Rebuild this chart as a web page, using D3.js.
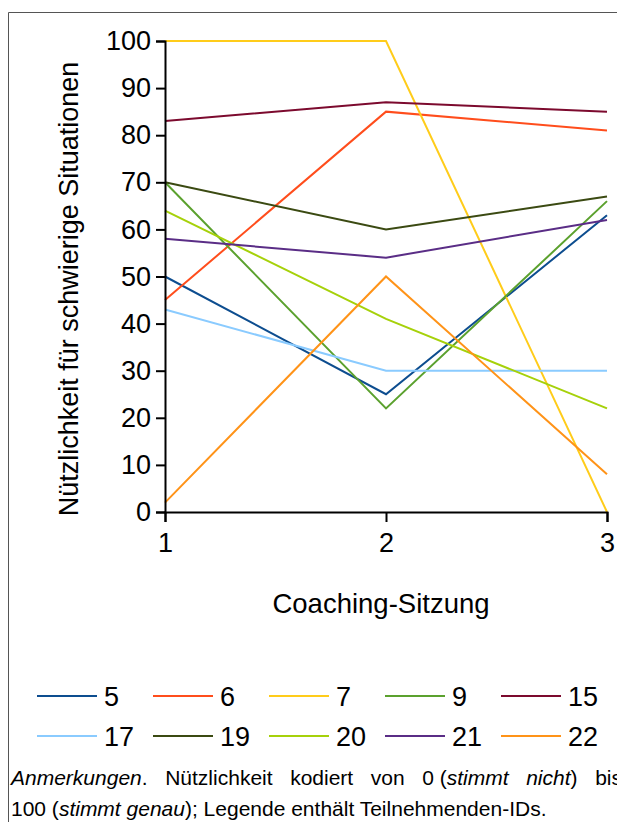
<!DOCTYPE html>
<html><head><meta charset="utf-8">
<script src="https://cdn.jsdelivr.net/npm/d3@7"></script>
<style>body{margin:0;background:#fff}svg{display:block}text{font-family:"Liberation Sans",Arial,sans-serif}</style>
</head><body><svg id="c" width="617" height="822"></svg>
<script>
const sessions = [1, 2, 3];
const ids = ["5", "6", "7", "9", "15", "17", "19", "20", "21", "22"];
const s5 = [50, 25, 63];
const s6 = [45, 85, 81];
const s7 = [100, 100, 0];
const s9 = [70, 22, 66];
const s15 = [83, 87, 85];
const s17 = [43, 30, 30];
const s19 = [70, 60, 67];
const s20 = [64, 41, 22];
const s21 = [58, 54, 62];
const s22 = [2, 50, 8];
const yTicks = [0, 10, 20, 30, 40, 50, 60, 70, 80, 90, 100];
const colors = ["#0d4d8f", "#ff4d1c", "#ffcc1a", "#5ba12e", "#7c0a2e", "#8acbff", "#3b4a12", "#a6d10a", "#5a2d86", "#ff9318"];
const series = [s5, s6, s7, s9, s15, s17, s19, s20, s21, s22];

const svg = d3.select("#c");
svg.append("path").attr("d", "M8.5,822 V12.5 H640").attr("fill", "none").attr("stroke", "#555").attr("stroke-width", 1);

const x = d3.scaleLinear().domain([1, 3]).range([165, 607]);
const y = d3.scaleLinear().domain([0, 100]).range([512, 41]);

const line = d3.line().x((d, i) => x(sessions[i])).y(d => y(d));
const g = svg.append("g");
series.forEach((s, k) => {
  g.append("path").datum(s).attr("d", line).attr("fill", "none")
    .attr("stroke", colors[k]).attr("stroke-width", 2);
});

const ya = svg.append("g").attr("transform", "translate(165,0)")
  .call(d3.axisLeft(y).tickValues(yTicks).tickSize(9).tickPadding(5));
const xa = svg.append("g").attr("transform", "translate(0,512)")
  .call(d3.axisBottom(x).tickValues(sessions).tickFormat(d3.format("d")).tickSize(10).tickPadding(11));
[ya, xa].forEach(a => {
  a.select(".domain").attr("stroke", "#000").attr("stroke-width", 2);
  a.selectAll(".tick line").attr("stroke", "#000").attr("stroke-width", 2);
  a.selectAll("text").attr("font-size", 27).attr("fill", "#000").attr("font-family", "Liberation Sans, Arial, sans-serif");
});

svg.append("text").attr("x", 381).attr("y", 613).attr("text-anchor", "middle")
  .attr("font-size", 27.5).text("Coaching-Sitzung");
svg.append("text").attr("transform", "translate(78,289) rotate(-90)").attr("text-anchor", "middle")
  .attr("font-size", 27).text("Nützlichkeit für schwierige Situationen");

const leg = svg.append("g");
ids.forEach((id, i) => {
  const col = i % 5, row = Math.floor(i / 5);
  const lx = 37 + col * 116, ly = 696 + row * 40;
  leg.append("line").attr("x1", lx).attr("x2", lx + 60).attr("y1", ly).attr("y2", ly)
    .attr("stroke", colors[i]).attr("stroke-width", 2);
  leg.append("text").attr("x", lx + 67).attr("y", ly).attr("dy", "0.36em")
    .attr("font-size", 27).text(id);
});

const line1 = [
  [["Anmerkungen", true], [".", false]],
  [["Nützlichkeit", false]],
  [["kodiert", false]],
  [["von", false]],
  [["0\u00a0(", false], ["stimmt", true]],
  [["nicht", true], [")", false]],
  [["bis", false]]
];
const fs = 21;
const note = svg.append("g").attr("font-size", fs);
const words = line1.map(w => {
  const t = note.append("text").attr("y", 785);
  w.forEach(([s, it]) => t.append("tspan").attr("font-style", it ? "italic" : "normal").text(s));
  return t;
});
const widths = words.map(t => t.node().getComputedTextLength());
const left = 11, right = 622;
const gap = (right - left - d3.sum(widths)) / (words.length - 1);
let cx = left;
words.forEach((t, i) => { t.attr("x", cx); cx += widths[i] + gap; });
const t2 = note.append("text").attr("x", left).attr("y", 816);
[["100 (", false], ["stimmt genau", true], ["); Legende enthält Teilnehmenden-IDs.", false]]
  .forEach(([s, it]) => t2.append("tspan").attr("font-style", it ? "italic" : "normal").text(s));
</script></body></html>
